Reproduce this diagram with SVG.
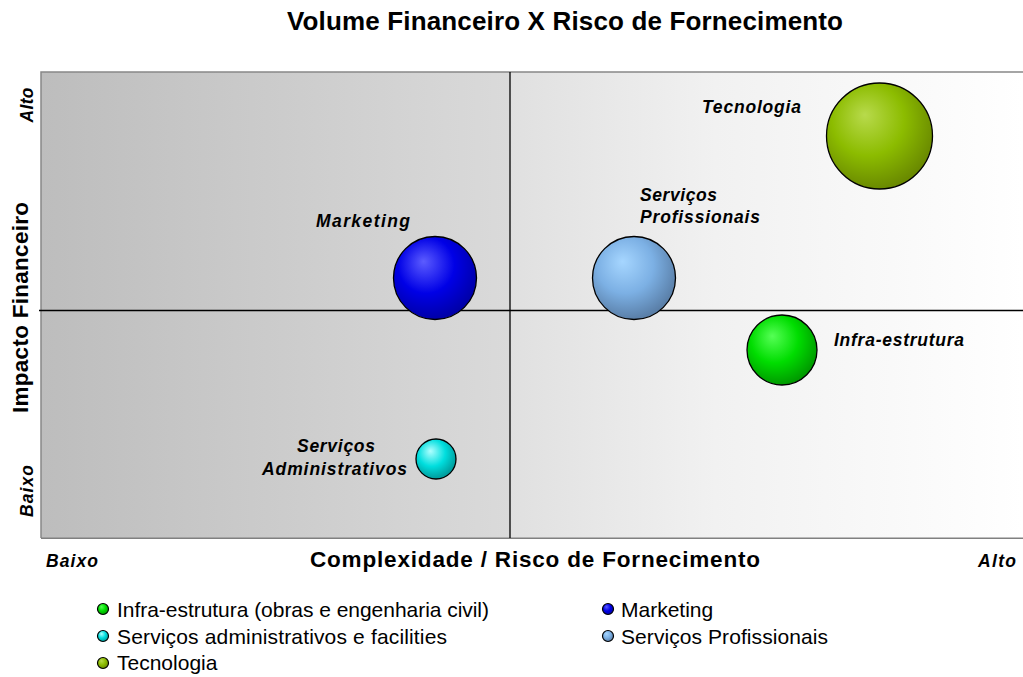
<svg xmlns="http://www.w3.org/2000/svg" width="1023" height="677" viewBox="0 0 1023 677">
<style>
text{font-family:"Liberation Sans",Arial,sans-serif;fill:#000}
.title{font-size:26px;font-weight:bold}
.axis{font-size:22.5px;font-weight:bold}
.tick{font-size:17.5px;font-weight:bold;font-style:italic}
.lbl{font-size:17.5px;font-weight:bold;font-style:italic}
.leg{font-size:21px}
.bub{stroke:#000;stroke-width:1.3}
.lgc{stroke:#000;stroke-width:1.2}
</style>
<defs>
<linearGradient id="gl" x1="0" y1="0" x2="1" y2="0">
<stop offset="0" stop-color="#bdbdbd"/>
<stop offset="1" stop-color="#dadada"/>
</linearGradient>
<linearGradient id="gr" x1="0" y1="0" x2="1" y2="0">
<stop offset="0" stop-color="#e0e0e0"/>
<stop offset="0.4" stop-color="#f1f1f1"/>
<stop offset="1" stop-color="#ffffff"/>
</linearGradient>
<radialGradient id="gGreen" cx="0.42" cy="0.38" fx="0.36" fy="0.3" r="0.62">
<stop offset="0" stop-color="#55ff55"/>
<stop offset="0.55" stop-color="#00dd00"/>
<stop offset="1" stop-color="#009a00"/>
</radialGradient>
<radialGradient id="gBlue" cx="0.42" cy="0.38" fx="0.36" fy="0.3" r="0.62">
<stop offset="0" stop-color="#5c5cff"/>
<stop offset="0.55" stop-color="#0000e6"/>
<stop offset="1" stop-color="#0000a8"/>
</radialGradient>
<radialGradient id="gLBlue" cx="0.42" cy="0.38" fx="0.36" fy="0.3" r="0.62">
<stop offset="0" stop-color="#a6d6ff"/>
<stop offset="0.55" stop-color="#7cb0e4"/>
<stop offset="1" stop-color="#5a7fa8"/>
</radialGradient>
<radialGradient id="gCyan" cx="0.42" cy="0.38" fx="0.36" fy="0.3" r="0.62">
<stop offset="0" stop-color="#b0ffff"/>
<stop offset="0.55" stop-color="#00dede"/>
<stop offset="1" stop-color="#009a9a"/>
</radialGradient>
<radialGradient id="gOlive" cx="0.42" cy="0.38" fx="0.36" fy="0.3" r="0.62">
<stop offset="0" stop-color="#b8da4c"/>
<stop offset="0.55" stop-color="#8cbc00"/>
<stop offset="1" stop-color="#6a8a00"/>
</radialGradient>
</defs>

<g id="background">
<rect x="41" y="72" width="469" height="466" fill="url(#gl)"/>
<rect x="510" y="72" width="513" height="466" fill="url(#gr)"/>
<polyline points="41,538 41,72 1023,72" fill="none" stroke="#888" stroke-width="1.5"/>
<line x1="41" y1="538.3" x2="1023" y2="538.3" stroke="#808080" stroke-width="1.6"/>
</g>

<g id="connectors">
<line x1="510" y1="72" x2="510" y2="538" stroke="#000" stroke-width="1.3"/>
<line x1="39" y1="310.5" x2="1023" y2="310.5" stroke="#000" stroke-width="1.3"/>
</g>

<text class="title" x="287" y="30" textLength="556" lengthAdjust="spacing">Volume Financeiro X Risco de Fornecimento</text>

<g id="axes-labels">
<text class="axis" transform="translate(27.5,307.5) rotate(-90)" text-anchor="middle" textLength="211" lengthAdjust="spacing">Impacto Financeiro</text>
<text class="tick" transform="translate(32.5,105) rotate(-90)" text-anchor="middle" textLength="35" lengthAdjust="spacing">Alto</text>
<text class="tick" transform="translate(32.5,491) rotate(-90)" text-anchor="middle" textLength="52" lengthAdjust="spacing">Baixo</text>
<text class="axis" x="310" y="566.5" textLength="450" lengthAdjust="spacing">Complexidade / Risco de Fornecimento</text>
<text class="tick" x="46" y="567" textLength="52" lengthAdjust="spacing">Baixo</text>
<text class="tick" x="978" y="567" textLength="38" lengthAdjust="spacing">Alto</text>
</g>

<g id="node-marketing">
<circle class="bub" cx="435" cy="278" r="41.5" fill="url(#gBlue)"/>
<text class="lbl" x="316" y="226.5" textLength="94" lengthAdjust="spacing">Marketing</text>
</g>

<g id="node-servicos-profissionais">
<circle class="bub" cx="634" cy="278" r="41.5" fill="url(#gLBlue)"/>
<text class="lbl" x="640" y="200.5" textLength="77" lengthAdjust="spacing">Serviços</text>
<text class="lbl" x="640" y="223" textLength="120" lengthAdjust="spacing">Profissionais</text>
</g>

<g id="node-tecnologia">
<circle class="bub" cx="879.5" cy="136" r="53" fill="url(#gOlive)"/>
<text class="lbl" x="702" y="113" textLength="99" lengthAdjust="spacing">Tecnologia</text>
</g>

<g id="node-infra-estrutura">
<circle class="bub" cx="782" cy="350" r="35" fill="url(#gGreen)"/>
<text class="lbl" x="834" y="346" textLength="130" lengthAdjust="spacing">Infra-estrutura</text>
</g>

<g id="node-servicos-administrativos">
<circle class="bub" cx="436" cy="459" r="20" fill="url(#gCyan)"/>
<text class="lbl" x="297" y="451.5" textLength="78" lengthAdjust="spacing">Serviços</text>
<text class="lbl" x="262" y="475" textLength="145" lengthAdjust="spacing">Administrativos</text>
</g>

<g id="legend">
<circle class="lgc" cx="103" cy="609" r="5.5" fill="url(#gGreen)"/>
<text class="leg" x="117" y="616.5" textLength="372" lengthAdjust="spacing">Infra-estrutura (obras e engenharia civil)</text>
<circle class="lgc" cx="103" cy="636" r="5.5" fill="url(#gCyan)"/>
<text class="leg" x="117" y="643.5" textLength="330" lengthAdjust="spacing">Serviços administrativos e facilities</text>
<circle class="lgc" cx="103" cy="663" r="5.5" fill="url(#gOlive)"/>
<text class="leg" x="117" y="670">Tecnologia</text>
<circle class="lgc" cx="608" cy="609" r="5.5" fill="url(#gBlue)"/>
<text class="leg" x="621" y="616.5">Marketing</text>
<circle class="lgc" cx="608" cy="636" r="5.5" fill="url(#gLBlue)"/>
<text class="leg" x="621" y="643.5" textLength="207" lengthAdjust="spacing">Serviços Profissionais</text>
</g>
</svg>
